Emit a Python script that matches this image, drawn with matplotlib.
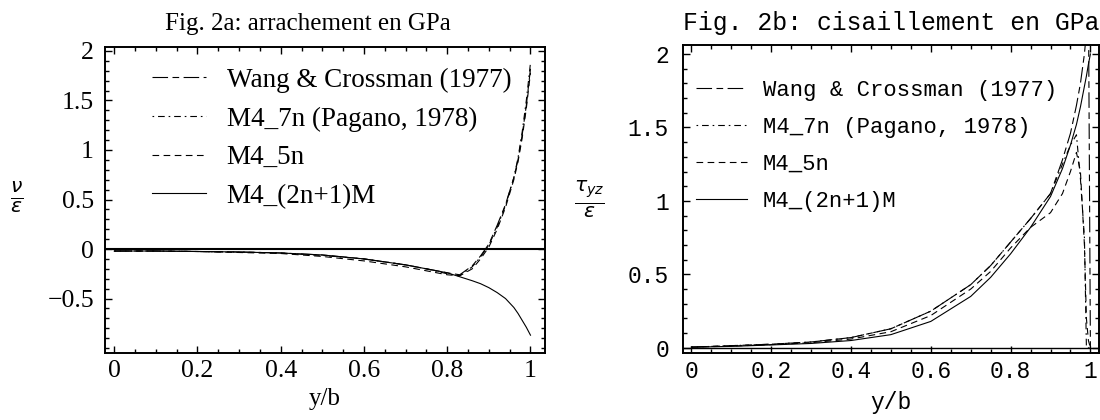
"""
Fig. 2a / 2b : arrachement et cisaillement (GPa)
"""
import numpy as np
import matplotlib
matplotlib.use("Agg")
import matplotlib.pyplot as plt
from matplotlib.ticker import MultipleLocator, FixedLocator, FuncFormatter

# --- données ---
labels = ["Wang & Crossman (1977)", "M4_7n (Pagano, 1978)", "M4_5n", "M4_(2n+1)M"]

# Fig. 2a : arrachement
x_a = [0, 0.1, 0.2, 0.3, 0.4, 0.5, 0.6, 0.7, 0.75, 0.8, 0.83, 0.86, 0.88, 0.9,
       0.92, 0.94, 0.96, 0.97, 0.98, 0.99, 1.0]
wang_a = [-0.02, -0.02, -0.025, -0.03, -0.04, -0.06, -0.1, -0.16, -0.2, -0.24,
          -0.26, -0.17, -0.07, 0.05, 0.24, 0.45, 0.72, 0.9, 1.15, 1.45, 1.82]
pagano_a = [-0.02, -0.02, -0.025, -0.03, -0.04, -0.065, -0.1, -0.16, -0.2, -0.25,
            -0.27, -0.18, -0.08, 0.04, 0.22, 0.44, 0.72, 0.92, 1.18, 1.5, 1.88]
m5n_a = [-0.02, -0.02, -0.025, -0.035, -0.045, -0.075, -0.12, -0.18, -0.22, -0.26,
         -0.27, -0.2, -0.1, 0.02, 0.2, 0.42, 0.7, 0.88, 1.12, 1.42, 1.78]
m2n_a = [-0.02, -0.02, -0.025, -0.03, -0.04, -0.06, -0.1, -0.16, -0.2, -0.24,
         -0.28, -0.32, -0.35, -0.39, -0.44, -0.5, -0.59, -0.65, -0.72, -0.79, -0.87]
yticks_a = [-0.5, 0, 0.5, 1, 1.5, 2]

# Fig. 2b : cisaillement
x_b = [0, 0.1, 0.2, 0.3, 0.4, 0.5, 0.6, 0.7, 0.75, 0.8, 0.85, 0.9, 0.93, 0.95,
       0.965, 0.975, 0.985, 0.99, 0.995, 1.0]
wang_b = [0.005, 0.015, 0.025, 0.04, 0.07, 0.13, 0.25, 0.43, 0.56, 0.72, 0.88,
          1.05, 1.28, 1.46, 1.65, 1.8, 2.0, 2.15, 2.4, 0.0]
pagano_b = [0.005, 0.015, 0.025, 0.04, 0.07, 0.13, 0.25, 0.43, 0.56, 0.72, 0.88,
            1.05, 1.25, 1.38, 1.45, 1.15, 0.75, 0.0, 0.0, 0.0]
m5n_b = [0.005, 0.012, 0.022, 0.035, 0.06, 0.11, 0.22, 0.4, 0.52, 0.68, 0.82,
         0.92, 1.05, 1.2, 1.33, 1.2, 0.7, 0.2, 0.05, 0.0]
m2n_b = [0.005, 0.01, 0.02, 0.03, 0.05, 0.09, 0.18, 0.35, 0.48, 0.64, 0.82,
         1.03, 1.22, 1.38, 1.52, 1.64, 1.78, 1.85, 1.93, 2.0]
yticks_b = [0, 0.5, 1, 1.5, 2]

styles = [(0, (14, 4, 6, 4)), (0, (1.5, 3.5, 6, 3.5)), (0, (6, 4)), "-"]

def fmt(v, pos):
    s = "%g" % v
    return s.replace("-", "\u2212")

def habillage(ax, fs, family, yticks, ypad):
    ax.tick_params(which="both", direction="in", top=True, right=True,
                   labelsize=fs, width=1)
    ax.tick_params(which="major", length=5)
    ax.tick_params(which="minor", length=3)
    ax.tick_params(axis="y", pad=ypad)
    ax.tick_params(axis="x", pad=5)
    ax.xaxis.set_major_locator(MultipleLocator(0.2))
    ax.xaxis.set_minor_locator(MultipleLocator(0.05))
    ax.yaxis.set_major_locator(FixedLocator(yticks))
    ax.yaxis.set_minor_locator(MultipleLocator(0.1))
    ax.xaxis.set_major_formatter(FuncFormatter(fmt))
    ax.yaxis.set_major_formatter(FuncFormatter(fmt))
    for t in ax.get_xticklabels() + ax.get_yticklabels():
        t.set_family(family)
    for s in ax.spines.values():
        s.set_linewidth(1.4)

fig = plt.figure(figsize=(11, 4.2), dpi=100)

# ---- Fig. 2a ----
serif = "Liberation Serif"
ax1 = fig.add_axes([0.0955, 0.1595, 0.4, 0.7286])
ax1.axhline(0, color="black", lw=1.5)
for y, ls, lab in zip([wang_a, pagano_a, m5n_a, m2n_a], styles, labels):
    ax1.plot(x_a, y, color="black", lw=0.8, linestyle=ls, label=lab)
ax1.set_xlim(-0.022, 1.035)
ax1.set_ylim(-1.05, 2.04)
habillage(ax1, 18.5, serif, yticks_a, 8)
ax1.set_title("Fig. 2a: arrachement en GPa", family=serif, fontsize=18, x=0.46, pad=12)
ax1.set_xlabel("y/b", family=serif, fontsize=18, labelpad=4)
ax1.set_ylabel(r"$\frac{\nu}{\varepsilon}$", fontsize=21, rotation=0, va="center",
               ha="center")
ax1.yaxis.set_label_coords(-0.2, 0.51)
ax1.legend(loc="upper left", bbox_to_anchor=(0.07, 0.985), frameon=False,
           prop={"family": serif, "size": 19.5}, handlelength=2.0,
           handletextpad=0.75, labelspacing=0.5, borderaxespad=0.2)

# ---- Fig. 2b ----
mono = "Liberation Mono"
ax2 = fig.add_axes([0.6209, 0.1595, 0.378, 0.733])
ax2.axhline(0, color="black", lw=1.0)
for y, ls, lab in zip([wang_b, pagano_b, m5n_b, m2n_b], styles, labels):
    ax2.plot(x_b, y, color="black", lw=0.8, linestyle=ls, label=lab)
ax2.set_xlim(-0.021, 1.021)
ax2.set_ylim(-0.035, 2.06)
habillage(ax2, 16.5, mono, yticks_b, 10)
ax2.set_title("Fig. 2b: cisaillement en GPa", family=mono, fontsize=17.8, pad=11)
ax2.set_xlabel("y/b", family=mono, fontsize=16.5, labelpad=6)
ax2.set_ylabel(r"$\frac{\tau_{yz}}{\varepsilon}$", fontsize=21, rotation=0,
               va="center", ha="center")
ax2.yaxis.set_label_coords(-0.224, 0.5)
ax2.legend(loc="upper left", bbox_to_anchor=(0.0, 0.93), frameon=False,
           prop={"family": mono, "size": 16}, handlelength=2.3,
           handletextpad=0.7, labelspacing=0.72, borderaxespad=0.2)

fig.savefig("out.png", dpi=100)
